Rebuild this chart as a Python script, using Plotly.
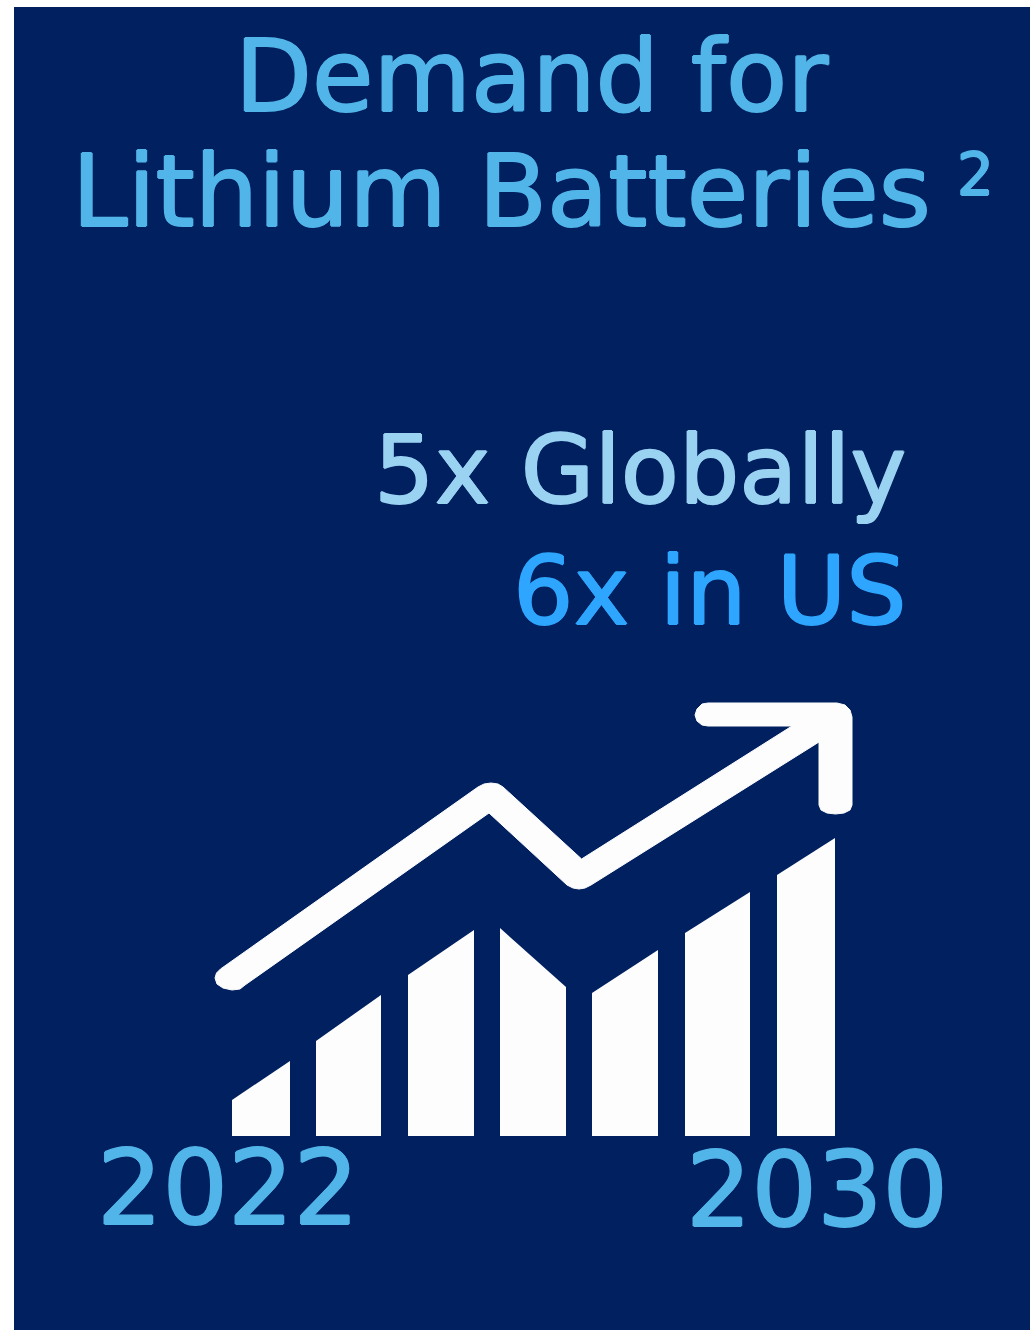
import plotly.graph_objects as go

# Rising bars: horizontal extent plus the height of each slanted top, above the baseline
bar_left = [232, 316, 408, 500, 592, 685, 777]
bar_right = [290, 381, 474, 566, 658, 750, 835]
bar_top_left = [36, 95, 161, 208, 143, 203, 261]
bar_top_right = [75, 141, 206, 149, 186, 244, 298]

# Outline of the trend arrow above the bars
arrow_x = [217, 215, 216.5, 220.5, 478, 484, 491, 498, 503, 581.6, 792, 708, 702, 697, 695, 697, 702, 708,
           837, 845, 850, 852, 852, 850, 844, 835.5, 827, 821, 819, 819, 591, 585, 579, 573, 567, 489,
           245, 240, 232, 223]
arrow_h = [152, 158, 163, 167, 349, 352, 353, 352, 349, 277, 410, 410, 411, 415, 421, 427, 432, 433,
           433, 431, 426, 419, 331, 326, 323, 322, 323, 326, 331, 394, 251, 248, 247, 248, 251, 323,
           151, 147, 146, 148]

# Text blocks
title_lines = ["Demand for", "Lithium Batteries"]
title_x = [532, 501]
title_h = [1060, 945]
footnote_mark = "2"
stat_lines = ["5x Globally", "6x in US"]
stat_x = [909, 909]
stat_h = [666, 545]
year_labels = ["2022", "2030"]
year_x = [228, 817]
year_h = [-52, -54]

NAVY = "#00205F"
SKY = "#52B5E9"
PALE = "#9AD2F2"
BRIGHT = "#2EA6FF"
WHITE = "#FDFDFD"
FONT = "DejaVu Sans"

fig = go.Figure()

for left, right, top_l, top_r in zip(bar_left, bar_right, bar_top_left, bar_top_right):
    fig.add_trace(go.Scatter(
        x=[left, left, right, right, left],
        y=[0, top_l, top_r, 0, 0],
        mode="lines",
        fill="toself",
        fillcolor=WHITE,
        line=dict(color=WHITE, width=0),
        showlegend=False,
        hoverinfo="skip",
    ))

fig.add_trace(go.Scatter(
    x=arrow_x + arrow_x[:1],
    y=arrow_h + arrow_h[:1],
    mode="lines",
    fill="toself",
    fillcolor=WHITE,
    line=dict(color=WHITE, width=1),
    showlegend=False,
    hoverinfo="skip",
))


def label(text, x, y, size, color, anchor="center"):
    # A one-pixel shadow on each side gives the regular face a medium-weight stem
    thicken = f"1px 0 0 {color}, -1px 0 0 {color}, 0 1px 0 {color}, 0 -1px 0 {color}"
    fig.add_annotation(
        x=x, y=y, text=text, showarrow=False,
        xanchor=anchor, yanchor="middle",
        font=dict(family=FONT, size=size, color=color, shadow=thicken),
    )


for text, x, y in zip(title_lines, title_x, title_h):
    label(text, x, y, 100, SKY)
label(footnote_mark, 975, 961, 58, SKY)

for text, x, y, color in zip(stat_lines, stat_x, stat_h, [PALE, BRIGHT]):
    label(text, x, y, 95, color, anchor="right")

for text, x, y in zip(year_labels, year_x, year_h):
    label(text, x, y, 103, SKY)

fig.update_layout(
    width=1030,
    height=1330,
    margin=dict(l=0, r=0, t=0, b=0),
    paper_bgcolor="white",
    plot_bgcolor="white",
    hovermode=False,
    xaxis=dict(range=[0, 1030], visible=False, fixedrange=True),
    yaxis=dict(range=[-194, 1136], visible=False, fixedrange=True),
    shapes=[dict(
        type="rect", xref="x", yref="y", layer="below",
        x0=14, x1=1030, y0=-194, y1=1129,
        fillcolor=NAVY, line=dict(width=0),
    )],
)

fig.write_html("out.html", config={"displayModeBar": False})
